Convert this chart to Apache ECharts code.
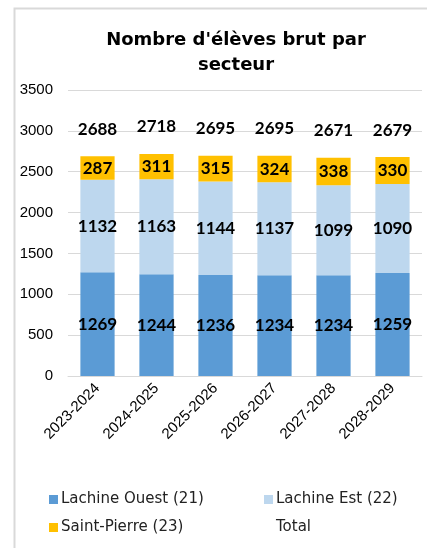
<!DOCTYPE html>
<html>
<head>
<meta charset="utf-8">
<script src="https://cdn.jsdelivr.net/npm/echarts@6/dist/echarts.min.js"></script>
<style>
  html, body { margin: 0; padding: 0; background: #fff; }
  #chart { width: 427px; height: 548px; }
</style>
</head>
<body>
<div id="chart"></div>
<script>
  // données
  var annees = ['2023-2024', '2024-2025', '2025-2026', '2026-2027', '2027-2028', '2028-2029'];
  var lachineOuest = [1269, 1244, 1236, 1234, 1234, 1259];
  var lachineEst = [1132, 1163, 1144, 1137, 1099, 1090];
  var saintPierre = [287, 311, 315, 324, 338, 330];
  var total = [2688, 2718, 2695, 2695, 2671, 2679];

  var fontTxt = 'Lato, "Noto Sans", sans-serif';
  var fontAxe = '"Liberation Sans", Arial, sans-serif';
  var labelSerie = {
    show: true,
    position: 'inside',
    color: '#000',
    fontSize: 17,
    fontWeight: 'bold',
    fontFamily: fontTxt
  };

  var chart = echarts.init(document.getElementById('chart'));
  chart.setOption({
    animation: false,
    title: {
      text: "Nombre d'élèves brut par\nsecteur",
      left: 231,
      textAlign: 'center',
      top: 23,
      textStyle: { fontSize: 18, fontWeight: 'bold', color: '#000', fontFamily: '"DejaVu Sans", sans-serif', lineHeight: 25 }
    },
    graphic: [{
      type: 'rect',
      shape: { x: 14.5, y: 8.5, width: 440, height: 560 },
      style: { fill: 'none', stroke: '#d9d9d9', lineWidth: 2 },
      silent: true
    }],
    legend: [{
      orient: 'vertical',
      left: 44,
      top: 487,
      icon: 'rect',
      itemWidth: 9,
      itemHeight: 9,
      itemGap: 13,
      textStyle: { fontSize: 15, color: '#222', fontFamily: '"DejaVu Sans", sans-serif', padding: [0, 0, 0, -2] },
      data: ['Lachine Ouest (21)', 'Saint-Pierre (23)']
    }, {
      orient: 'vertical',
      left: 259,
      top: 487,
      icon: 'rect',
      itemWidth: 9,
      itemHeight: 9,
      itemGap: 13,
      textStyle: { fontSize: 15, color: '#222', fontFamily: '"DejaVu Sans", sans-serif', padding: [0, 0, 0, -2] },
      data: ['Lachine Est (22)', { name: 'Total', itemStyle: { opacity: 0 } }]
    }],
    grid: { left: 68, right: 5, top: 90, bottom: 172 },
    xAxis: {
      type: 'category',
      data: annees,
      axisLine: { lineStyle: { color: '#d9d9d9' } },
      axisTick: { show: false },
      axisLabel: { rotate: 45, color: '#000', fontSize: 15, fontFamily: fontAxe, margin: 10 }
    },
    yAxis: {
      type: 'value',
      min: 0,
      max: 3500,
      interval: 500,
      axisLine: { show: false },
      axisTick: { show: false },
      splitLine: { lineStyle: { color: '#d9d9d9' } },
      axisLabel: { color: '#000', fontSize: 15, fontFamily: fontAxe, margin: 15, formatter: function (v) { return String(v); } }
    },
    series: [{
      name: 'Lachine Ouest (21)',
      type: 'bar',
      stack: 'eleves',
      barWidth: '58%',
      data: lachineOuest,
      itemStyle: { color: '#5b9bd5' },
      label: labelSerie
    }, {
      name: 'Lachine Est (22)',
      type: 'bar',
      stack: 'eleves',
      data: lachineEst,
      itemStyle: { color: '#bdd7ee' },
      label: labelSerie
    }, {
      name: 'Total',
      type: 'line',
      data: total,
      symbol: 'circle',
      symbolSize: 1,
      showSymbol: true,
      lineStyle: { opacity: 0 },
      itemStyle: { color: 'rgba(0,0,0,0)' },
      label: {
        show: true,
        position: 'top',
        distance: 18,
        color: '#000',
        fontSize: 17,
        fontWeight: 'bold',
        fontFamily: fontTxt
      }
    }, {
      name: 'Saint-Pierre (23)',
      type: 'bar',
      stack: 'eleves',
      data: saintPierre,
      itemStyle: { color: '#ffc000' },
      label: labelSerie
    }]
  });
</script>
</body>
</html>
